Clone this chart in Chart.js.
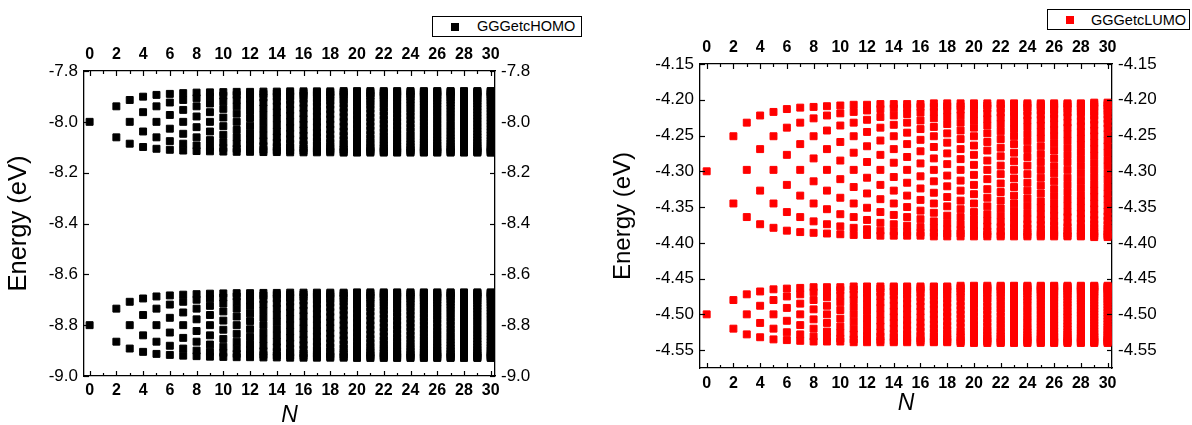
<!DOCTYPE html>
<html>
<head>
<meta charset="utf-8">
<script src="https://cdn.jsdelivr.net/npm/chart.js@4.4.1/dist/chart.umd.min.js"></script>
<style>
  html, body { margin: 0; padding: 0; background: #fff; }
  body { width: 1192px; height: 425px; position: relative; overflow: hidden; font-family: 'Liberation Sans', Arial, sans-serif; }
  canvas { position: absolute; top: 0; }
  .legend { position: absolute; border: 1px solid #000; box-sizing: border-box; background: #fff; }
  .legend .mk { position: absolute; width: 8px; height: 8px; }
  .legend .tx { position: absolute; font-size: 14.5px; line-height: 15px; color: #000; white-space: nowrap; }
</style>
</head>
<body>
<canvas id="homo" width="596" height="425" style="left:0px"></canvas>
<canvas id="lumo" width="596" height="425" style="left:596px"></canvas>

<div class="legend" style="left:432px; top:16px; width:150px; height:21px;">
  <span class="mk" style="left:18px; top:6px; background:#000;"></span>
  <span class="tx" style="left:44px; top:2px;">GGGetcHOMO</span>
</div>
<div class="legend" style="left:1047px; top:9px; width:143px; height:21px;">
  <span class="mk" style="left:18px; top:6px; background:#ff0000;"></span>
  <span class="tx" style="left:43px; top:3px;">GGGetcLUMO</span>
</div>

<script>
// ---------------- data ----------------
const N_VALUES = [0,2,3,4,5,6,7,8,9,10,11,12,13,14,15,16,17,18,19,20,21,22,23,24,25,26,27,28,29,30];

const X_TICKS = [0,2,4,6,8,10,12,14,16,18,20,22,24,26,28,30];
const X_TICK_LABELS = ['0','2','4','6','8','10','12','14','16','18','20','22','24','26','28','30'];
const X_MINOR_TICKS = [1,3,5,7,9,11,13,15,17,19,21,23,25,27,29];

const HOMO_Y_TICKS = [-9.0,-8.8,-8.6,-8.4,-8.2,-8.0,-7.8];
const HOMO_Y_LABELS = ['-9.0','-8.8','-8.6','-8.4','-8.2','-8.0','-7.8'];
const LUMO_Y_TICKS = [-4.55,-4.50,-4.45,-4.40,-4.35,-4.30,-4.25,-4.20,-4.15];
const LUMO_Y_LABELS = ['-4.55','-4.50','-4.45','-4.40','-4.35','-4.30','-4.25','-4.20','-4.15'];

// energy levels (eV) for each N, upper HOMO band
const HOMO_UPPER = [
[-8.000],
[-7.939,-8.061],
[-7.914,-8.000,-8.086],
[-7.901,-7.962,-8.038,-8.099],
[-7.894,-7.939,-8.000,-8.061,-8.106],
[-7.890,-7.924,-7.973,-8.027,-8.076,-8.110],
[-7.887,-7.914,-7.953,-8.000,-8.047,-8.086,-8.113],
[-7.885,-7.907,-7.939,-7.979,-8.021,-8.061,-8.093,-8.115],
[-7.884,-7.901,-7.928,-7.962,-8.000,-8.038,-8.072,-8.099,-8.116],
[-7.883,-7.897,-7.920,-7.949,-7.983,-8.017,-8.051,-8.080,-8.103,-8.117],
[-7.882,-7.894,-7.914,-7.939,-7.968,-8.000,-8.032,-8.061,-8.086,-8.106,-8.118],
[-7.882,-7.892,-7.909,-7.931,-7.957,-7.985,-8.015,-8.043,-8.069,-8.091,-8.108,-8.118],
[-7.881,-7.890,-7.905,-7.924,-7.947,-7.973,-8.000,-8.027,-8.053,-8.076,-8.095,-8.110,-8.119],
[-7.881,-7.888,-7.901,-7.918,-7.939,-7.962,-7.987,-8.013,-8.038,-8.061,-8.082,-8.099,-8.112,-8.119],
[-7.880,-7.887,-7.899,-7.914,-7.932,-7.953,-7.976,-8.000,-8.024,-8.047,-8.068,-8.086,-8.101,-8.113,-8.120],
[-7.880,-7.886,-7.896,-7.910,-7.926,-7.946,-7.967,-7.989,-8.011,-8.033,-8.054,-8.074,-8.090,-8.104,-8.114,-8.120],
[-7.880,-7.885,-7.894,-7.907,-7.922,-7.939,-7.958,-7.979,-8.000,-8.021,-8.042,-8.061,-8.078,-8.093,-8.106,-8.115,-8.120],
[-7.880,-7.885,-7.893,-7.904,-7.917,-7.933,-7.951,-7.970,-7.990,-8.010,-8.030,-8.049,-8.067,-8.083,-8.096,-8.107,-8.115,-8.120],
[-7.879,-7.884,-7.891,-7.901,-7.914,-7.928,-7.945,-7.962,-7.981,-8.000,-8.019,-8.038,-8.055,-8.072,-8.086,-8.099,-8.109,-8.116,-8.121],
[-7.879,-7.883,-7.890,-7.899,-7.911,-7.924,-7.939,-7.955,-7.973,-7.991,-8.009,-8.027,-8.045,-8.061,-8.076,-8.089,-8.101,-8.110,-8.117,-8.121],
[-7.879,-7.883,-7.889,-7.897,-7.908,-7.920,-7.934,-7.949,-7.966,-7.983,-8.000,-8.017,-8.034,-8.051,-8.066,-8.080,-8.092,-8.103,-8.111,-8.117,-8.121],
[-7.879,-7.883,-7.888,-7.896,-7.905,-7.917,-7.930,-7.944,-7.959,-7.975,-7.992,-8.008,-8.025,-8.041,-8.056,-8.070,-8.083,-8.095,-8.104,-8.112,-8.117,-8.121],
[-7.879,-7.882,-7.887,-7.894,-7.903,-7.914,-7.926,-7.939,-7.953,-7.968,-7.984,-8.000,-8.016,-8.032,-8.047,-8.061,-8.074,-8.086,-8.097,-8.106,-8.113,-8.118,-8.121],
[-7.879,-7.882,-7.887,-7.893,-7.901,-7.911,-7.922,-7.935,-7.948,-7.962,-7.977,-7.992,-8.008,-8.023,-8.038,-8.052,-8.065,-8.078,-8.089,-8.099,-8.107,-8.113,-8.118,-8.121],
[-7.879,-7.882,-7.886,-7.892,-7.900,-7.909,-7.919,-7.931,-7.943,-7.957,-7.971,-7.985,-8.000,-8.015,-8.029,-8.043,-8.057,-8.069,-8.081,-8.091,-8.100,-8.108,-8.114,-8.118,-8.121],
[-7.879,-7.881,-7.885,-7.891,-7.898,-7.907,-7.916,-7.927,-7.939,-7.952,-7.965,-7.979,-7.993,-8.007,-8.021,-8.035,-8.048,-8.061,-8.073,-8.084,-8.093,-8.102,-8.109,-8.115,-8.119,-8.121],
[-7.879,-7.881,-7.885,-7.890,-7.897,-7.905,-7.914,-7.924,-7.935,-7.947,-7.960,-7.973,-7.986,-8.000,-8.014,-8.027,-8.040,-8.053,-8.065,-8.076,-8.086,-8.095,-8.103,-8.110,-8.115,-8.119,-8.121],
[-7.879,-7.881,-7.884,-7.889,-7.895,-7.903,-7.911,-7.921,-7.932,-7.943,-7.955,-7.967,-7.980,-7.993,-8.007,-8.020,-8.033,-8.045,-8.057,-8.068,-8.079,-8.089,-8.097,-8.105,-8.111,-8.116,-8.119,-8.121],
[-7.879,-7.881,-7.884,-7.888,-7.894,-7.901,-7.909,-7.918,-7.928,-7.939,-7.950,-7.962,-7.975,-7.987,-8.000,-8.013,-8.025,-8.038,-8.050,-8.061,-8.072,-8.082,-8.091,-8.099,-8.106,-8.112,-8.116,-8.119,-8.121],
[-7.879,-7.880,-7.884,-7.888,-7.893,-7.900,-7.907,-7.916,-7.925,-7.935,-7.946,-7.958,-7.969,-7.982,-7.994,-8.006,-8.018,-8.031,-8.042,-8.054,-8.065,-8.075,-8.084,-8.093,-8.100,-8.107,-8.112,-8.116,-8.120,-8.121]
];

// lower HOMO band
const HOMO_LOWER = [
[-8.800],
[-8.735,-8.865],
[-8.708,-8.800,-8.892],
[-8.695,-8.760,-8.840,-8.905],
[-8.687,-8.735,-8.800,-8.865,-8.913],
[-8.683,-8.719,-8.771,-8.829,-8.881,-8.917],
[-8.680,-8.708,-8.750,-8.800,-8.850,-8.892,-8.920],
[-8.678,-8.700,-8.735,-8.777,-8.823,-8.865,-8.900,-8.922],
[-8.676,-8.695,-8.724,-8.760,-8.800,-8.840,-8.876,-8.905,-8.924],
[-8.675,-8.691,-8.715,-8.746,-8.782,-8.818,-8.854,-8.885,-8.909,-8.925],
[-8.674,-8.687,-8.708,-8.735,-8.766,-8.800,-8.834,-8.865,-8.892,-8.913,-8.926],
[-8.674,-8.685,-8.703,-8.726,-8.754,-8.784,-8.816,-8.846,-8.874,-8.897,-8.915,-8.926],
[-8.673,-8.683,-8.698,-8.719,-8.744,-8.771,-8.800,-8.829,-8.856,-8.881,-8.902,-8.917,-8.927],
[-8.673,-8.681,-8.695,-8.713,-8.735,-8.760,-8.786,-8.814,-8.840,-8.865,-8.887,-8.905,-8.919,-8.927],
[-8.672,-8.680,-8.692,-8.708,-8.728,-8.750,-8.775,-8.800,-8.825,-8.850,-8.872,-8.892,-8.908,-8.920,-8.928],
[-8.672,-8.679,-8.689,-8.704,-8.722,-8.742,-8.764,-8.788,-8.812,-8.836,-8.858,-8.878,-8.896,-8.911,-8.921,-8.928],
[-8.672,-8.678,-8.687,-8.700,-8.716,-8.735,-8.756,-8.777,-8.800,-8.823,-8.844,-8.865,-8.884,-8.900,-8.913,-8.922,-8.928],
[-8.672,-8.677,-8.686,-8.697,-8.712,-8.729,-8.748,-8.768,-8.789,-8.811,-8.832,-8.852,-8.871,-8.888,-8.903,-8.914,-8.923,-8.928],
[-8.672,-8.676,-8.684,-8.695,-8.708,-8.724,-8.741,-8.760,-8.780,-8.800,-8.820,-8.840,-8.859,-8.876,-8.892,-8.905,-8.916,-8.924,-8.928],
[-8.671,-8.676,-8.683,-8.693,-8.705,-8.719,-8.735,-8.753,-8.771,-8.790,-8.810,-8.829,-8.847,-8.865,-8.881,-8.895,-8.907,-8.917,-8.924,-8.929],
[-8.671,-8.675,-8.682,-8.691,-8.702,-8.715,-8.730,-8.746,-8.763,-8.782,-8.800,-8.818,-8.837,-8.854,-8.870,-8.885,-8.898,-8.909,-8.918,-8.925,-8.929],
[-8.671,-8.675,-8.681,-8.689,-8.699,-8.711,-8.725,-8.740,-8.756,-8.774,-8.791,-8.809,-8.826,-8.844,-8.860,-8.875,-8.889,-8.901,-8.911,-8.919,-8.925,-8.929],
[-8.671,-8.674,-8.680,-8.687,-8.697,-8.708,-8.721,-8.735,-8.750,-8.766,-8.783,-8.800,-8.817,-8.834,-8.850,-8.865,-8.879,-8.892,-8.903,-8.913,-8.920,-8.926,-8.929],
[-8.671,-8.674,-8.679,-8.686,-8.695,-8.705,-8.717,-8.730,-8.745,-8.760,-8.776,-8.792,-8.808,-8.824,-8.840,-8.855,-8.870,-8.883,-8.895,-8.905,-8.914,-8.921,-8.926,-8.929],
[-8.671,-8.674,-8.678,-8.685,-8.693,-8.703,-8.714,-8.726,-8.740,-8.754,-8.769,-8.784,-8.800,-8.816,-8.831,-8.846,-8.860,-8.874,-8.886,-8.897,-8.907,-8.915,-8.922,-8.926,-8.929],
[-8.671,-8.674,-8.678,-8.684,-8.691,-8.700,-8.711,-8.722,-8.735,-8.749,-8.763,-8.777,-8.792,-8.808,-8.823,-8.837,-8.851,-8.865,-8.878,-8.889,-8.900,-8.909,-8.916,-8.922,-8.926,-8.929],
[-8.671,-8.673,-8.677,-8.683,-8.690,-8.698,-8.708,-8.719,-8.731,-8.744,-8.757,-8.771,-8.785,-8.800,-8.815,-8.829,-8.843,-8.856,-8.869,-8.881,-8.892,-8.902,-8.910,-8.917,-8.923,-8.927,-8.929],
[-8.671,-8.673,-8.677,-8.682,-8.689,-8.697,-8.706,-8.716,-8.727,-8.739,-8.752,-8.765,-8.779,-8.793,-8.807,-8.821,-8.835,-8.848,-8.861,-8.873,-8.884,-8.894,-8.903,-8.911,-8.918,-8.923,-8.927,-8.929],
[-8.671,-8.673,-8.676,-8.681,-8.687,-8.695,-8.703,-8.713,-8.724,-8.735,-8.747,-8.760,-8.773,-8.786,-8.800,-8.814,-8.827,-8.840,-8.853,-8.865,-8.876,-8.887,-8.897,-8.905,-8.913,-8.919,-8.924,-8.927,-8.929],
[-8.671,-8.673,-8.676,-8.681,-8.686,-8.693,-8.701,-8.710,-8.720,-8.731,-8.743,-8.755,-8.767,-8.780,-8.793,-8.807,-8.820,-8.833,-8.845,-8.857,-8.869,-8.880,-8.890,-8.899,-8.907,-8.914,-8.919,-8.924,-8.927,-8.929]
];

// upper LUMO band
const LUMO_UPPER = [
[-4.300],
[-4.251,-4.345],
[-4.232,-4.298,-4.364],
[-4.222,-4.269,-4.327,-4.374],
[-4.217,-4.251,-4.298,-4.345,-4.379],
[-4.213,-4.239,-4.277,-4.319,-4.357,-4.383],
[-4.211,-4.232,-4.262,-4.298,-4.334,-4.364,-4.385],
[-4.210,-4.226,-4.251,-4.282,-4.314,-4.345,-4.370,-4.386],
[-4.209,-4.222,-4.243,-4.269,-4.298,-4.327,-4.353,-4.374,-4.387],
[-4.208,-4.219,-4.236,-4.259,-4.285,-4.311,-4.337,-4.360,-4.377,-4.388],
[-4.207,-4.217,-4.232,-4.251,-4.274,-4.298,-4.322,-4.345,-4.364,-4.379,-4.389],
[-4.207,-4.215,-4.228,-4.245,-4.265,-4.287,-4.309,-4.331,-4.351,-4.368,-4.381,-4.389],
[-4.206,-4.213,-4.224,-4.239,-4.257,-4.277,-4.298,-4.319,-4.339,-4.357,-4.372,-4.383,-4.390],
[-4.206,-4.212,-4.222,-4.235,-4.251,-4.269,-4.288,-4.308,-4.327,-4.345,-4.361,-4.374,-4.384,-4.390],
[-4.206,-4.211,-4.220,-4.232,-4.246,-4.262,-4.280,-4.298,-4.316,-4.334,-4.350,-4.364,-4.376,-4.385,-4.390],
[-4.206,-4.210,-4.218,-4.229,-4.241,-4.256,-4.272,-4.289,-4.307,-4.324,-4.340,-4.355,-4.367,-4.378,-4.386,-4.390],
[-4.205,-4.210,-4.217,-4.226,-4.238,-4.251,-4.266,-4.282,-4.298,-4.314,-4.330,-4.345,-4.358,-4.370,-4.379,-4.386,-4.391],
[-4.205,-4.209,-4.215,-4.224,-4.234,-4.247,-4.260,-4.275,-4.290,-4.306,-4.321,-4.336,-4.349,-4.362,-4.372,-4.381,-4.387,-4.391],
[-4.205,-4.209,-4.214,-4.222,-4.232,-4.243,-4.255,-4.269,-4.283,-4.298,-4.313,-4.327,-4.341,-4.353,-4.364,-4.374,-4.382,-4.387,-4.391],
[-4.205,-4.208,-4.213,-4.220,-4.229,-4.239,-4.251,-4.264,-4.277,-4.291,-4.305,-4.319,-4.332,-4.345,-4.357,-4.367,-4.376,-4.383,-4.388,-4.391],
[-4.205,-4.208,-4.212,-4.219,-4.227,-4.236,-4.247,-4.259,-4.271,-4.285,-4.298,-4.311,-4.325,-4.337,-4.349,-4.360,-4.369,-4.377,-4.384,-4.388,-4.391],
[-4.205,-4.207,-4.212,-4.218,-4.225,-4.234,-4.244,-4.255,-4.267,-4.279,-4.292,-4.304,-4.317,-4.329,-4.341,-4.352,-4.362,-4.371,-4.378,-4.384,-4.389,-4.391],
[-4.205,-4.207,-4.211,-4.217,-4.223,-4.232,-4.241,-4.251,-4.262,-4.274,-4.286,-4.298,-4.310,-4.322,-4.334,-4.345,-4.355,-4.364,-4.373,-4.379,-4.385,-4.389,-4.391],
[-4.205,-4.207,-4.211,-4.216,-4.222,-4.229,-4.238,-4.248,-4.258,-4.269,-4.280,-4.292,-4.304,-4.316,-4.327,-4.338,-4.348,-4.358,-4.367,-4.374,-4.380,-4.385,-4.389,-4.391],
[-4.205,-4.207,-4.210,-4.215,-4.221,-4.228,-4.236,-4.245,-4.254,-4.265,-4.276,-4.287,-4.298,-4.309,-4.320,-4.331,-4.342,-4.351,-4.360,-4.368,-4.375,-4.381,-4.386,-4.389,-4.391],
[-4.205,-4.207,-4.210,-4.214,-4.220,-4.226,-4.234,-4.242,-4.251,-4.261,-4.271,-4.282,-4.293,-4.303,-4.314,-4.325,-4.335,-4.345,-4.354,-4.362,-4.370,-4.376,-4.382,-4.386,-4.389,-4.391],
[-4.205,-4.206,-4.209,-4.213,-4.218,-4.224,-4.232,-4.239,-4.248,-4.257,-4.267,-4.277,-4.287,-4.298,-4.309,-4.319,-4.329,-4.339,-4.348,-4.357,-4.364,-4.372,-4.378,-4.383,-4.387,-4.390,-4.391],
[-4.205,-4.206,-4.209,-4.213,-4.217,-4.223,-4.230,-4.237,-4.245,-4.254,-4.263,-4.273,-4.283,-4.293,-4.303,-4.313,-4.323,-4.333,-4.342,-4.351,-4.359,-4.366,-4.373,-4.379,-4.383,-4.387,-4.390,-4.391],
[-4.204,-4.206,-4.209,-4.212,-4.217,-4.222,-4.228,-4.235,-4.243,-4.251,-4.260,-4.269,-4.278,-4.288,-4.298,-4.308,-4.318,-4.327,-4.336,-4.345,-4.353,-4.361,-4.368,-4.374,-4.379,-4.384,-4.387,-4.390,-4.392],
[-4.204,-4.206,-4.208,-4.212,-4.216,-4.221,-4.227,-4.233,-4.240,-4.248,-4.257,-4.265,-4.274,-4.284,-4.293,-4.303,-4.312,-4.322,-4.331,-4.339,-4.348,-4.356,-4.363,-4.369,-4.375,-4.380,-4.384,-4.388,-4.390,-4.392]
];

// lower LUMO band
const LUMO_LOWER = [
[-4.500],
[-4.480,-4.520],
[-4.472,-4.500,-4.528],
[-4.468,-4.488,-4.512,-4.532],
[-4.465,-4.480,-4.500,-4.520,-4.535],
[-4.464,-4.475,-4.491,-4.509,-4.525,-4.536],
[-4.463,-4.472,-4.485,-4.500,-4.515,-4.528,-4.537],
[-4.462,-4.469,-4.480,-4.493,-4.507,-4.520,-4.531,-4.538],
[-4.462,-4.468,-4.476,-4.488,-4.500,-4.512,-4.524,-4.532,-4.538],
[-4.462,-4.466,-4.474,-4.483,-4.494,-4.506,-4.517,-4.526,-4.534,-4.538],
[-4.461,-4.465,-4.472,-4.480,-4.490,-4.500,-4.510,-4.520,-4.528,-4.535,-4.539],
[-4.461,-4.465,-4.470,-4.477,-4.486,-4.495,-4.505,-4.514,-4.523,-4.530,-4.535,-4.539],
[-4.461,-4.464,-4.469,-4.475,-4.483,-4.491,-4.500,-4.509,-4.517,-4.525,-4.531,-4.536,-4.539],
[-4.461,-4.463,-4.468,-4.473,-4.480,-4.488,-4.496,-4.504,-4.512,-4.520,-4.527,-4.532,-4.537,-4.539],
[-4.461,-4.463,-4.467,-4.472,-4.478,-4.485,-4.492,-4.500,-4.508,-4.515,-4.522,-4.528,-4.533,-4.537,-4.539],
[-4.461,-4.463,-4.466,-4.470,-4.476,-4.482,-4.489,-4.496,-4.504,-4.511,-4.518,-4.524,-4.530,-4.534,-4.537,-4.539],
[-4.461,-4.462,-4.465,-4.469,-4.474,-4.480,-4.486,-4.493,-4.500,-4.507,-4.514,-4.520,-4.526,-4.531,-4.535,-4.538,-4.539],
[-4.461,-4.462,-4.465,-4.468,-4.473,-4.478,-4.484,-4.490,-4.497,-4.503,-4.510,-4.516,-4.522,-4.527,-4.532,-4.535,-4.538,-4.539],
[-4.460,-4.462,-4.464,-4.468,-4.472,-4.476,-4.482,-4.488,-4.494,-4.500,-4.506,-4.512,-4.518,-4.524,-4.528,-4.532,-4.536,-4.538,-4.540],
[-4.460,-4.462,-4.464,-4.467,-4.471,-4.475,-4.480,-4.485,-4.491,-4.497,-4.503,-4.509,-4.515,-4.520,-4.525,-4.529,-4.533,-4.536,-4.538,-4.540],
[-4.460,-4.462,-4.464,-4.466,-4.470,-4.474,-4.478,-4.483,-4.489,-4.494,-4.500,-4.506,-4.511,-4.517,-4.522,-4.526,-4.530,-4.534,-4.536,-4.538,-4.540],
[-4.460,-4.461,-4.463,-4.466,-4.469,-4.473,-4.477,-4.482,-4.487,-4.492,-4.497,-4.503,-4.508,-4.513,-4.518,-4.523,-4.527,-4.531,-4.534,-4.537,-4.539,-4.540],
[-4.460,-4.461,-4.463,-4.465,-4.468,-4.472,-4.476,-4.480,-4.485,-4.490,-4.495,-4.500,-4.505,-4.510,-4.515,-4.520,-4.524,-4.528,-4.532,-4.535,-4.537,-4.539,-4.540],
[-4.460,-4.461,-4.463,-4.465,-4.468,-4.471,-4.475,-4.479,-4.483,-4.488,-4.493,-4.497,-4.503,-4.507,-4.512,-4.517,-4.521,-4.525,-4.529,-4.532,-4.535,-4.537,-4.539,-4.540],
[-4.460,-4.461,-4.463,-4.465,-4.467,-4.470,-4.473,-4.477,-4.481,-4.486,-4.490,-4.495,-4.500,-4.505,-4.510,-4.514,-4.519,-4.523,-4.527,-4.530,-4.533,-4.535,-4.537,-4.539,-4.540],
[-4.460,-4.461,-4.462,-4.464,-4.467,-4.469,-4.473,-4.476,-4.480,-4.484,-4.489,-4.493,-4.498,-4.502,-4.507,-4.511,-4.516,-4.520,-4.524,-4.527,-4.531,-4.533,-4.536,-4.538,-4.539,-4.540],
[-4.460,-4.461,-4.462,-4.464,-4.466,-4.469,-4.472,-4.475,-4.479,-4.483,-4.487,-4.491,-4.496,-4.500,-4.504,-4.509,-4.513,-4.517,-4.521,-4.525,-4.528,-4.531,-4.534,-4.536,-4.538,-4.539,-4.540],
[-4.460,-4.461,-4.462,-4.464,-4.466,-4.468,-4.471,-4.474,-4.478,-4.481,-4.485,-4.489,-4.494,-4.498,-4.502,-4.506,-4.511,-4.515,-4.519,-4.522,-4.526,-4.529,-4.532,-4.534,-4.536,-4.538,-4.539,-4.540],
[-4.460,-4.461,-4.462,-4.463,-4.465,-4.468,-4.470,-4.473,-4.476,-4.480,-4.484,-4.488,-4.492,-4.496,-4.500,-4.504,-4.508,-4.512,-4.516,-4.520,-4.524,-4.527,-4.530,-4.532,-4.535,-4.537,-4.538,-4.539,-4.540],
[-4.460,-4.461,-4.462,-4.463,-4.465,-4.467,-4.470,-4.472,-4.476,-4.479,-4.482,-4.486,-4.490,-4.494,-4.498,-4.502,-4.506,-4.510,-4.514,-4.518,-4.521,-4.524,-4.528,-4.530,-4.533,-4.535,-4.537,-4.538,-4.539,-4.540]
];

// ---------------- rendering ----------------
const FONT = "'Liberation Sans', Arial, Helvetica, sans-serif";
Chart.defaults.font.family = FONT;
Chart.defaults.color = '#000';

function toPoints(levels) {
  const pts = [];
  N_VALUES.forEach((n, i) => levels[i].forEach(e => pts.push({ x: n, y: e })));
  return pts;
}

const inwardTicks = {
  id: 'inwardTicks',
  afterDraw(chart) {
    const ctx = chart.ctx, a = chart.chartArea;
    ctx.save();
    ctx.strokeStyle = '#000';
    ctx.lineWidth = 1.2;
    Object.values(chart.scales).forEach(s => {
      const draw = (v, len) => {
        const p = Math.round(s.getPixelForValue(v)) + 0.5;
        ctx.beginPath();
        if (s.isHorizontal()) {
          const y0 = s.position === 'top' ? a.top : a.bottom;
          const dir = s.position === 'top' ? 1 : -1;
          ctx.moveTo(p, y0); ctx.lineTo(p, y0 + dir * len);
        } else {
          const x0 = s.position === 'left' ? a.left : a.right;
          const dir = s.position === 'left' ? 1 : -1;
          ctx.moveTo(x0, p); ctx.lineTo(x0 + dir * len, p);
        }
        ctx.stroke();
      };
      s.ticks.forEach(t => draw(t.value, 5));
      if (s.isHorizontal()) X_MINOR_TICKS.forEach(v => draw(v, 3));
    });
    ctx.restore();
  }
};

function makeChart(id, cfg) {
  const border = { display: true, color: '#000', width: 1.3 };
  const grid = { display: false, drawTicks: false };
  const xTickFont = { size: 16, weight: 'bold', family: FONT };
  const yTickFont = { size: 17, family: FONT };
  const xTicks = (pad) => ({
    font: xTickFont, color: '#000', padding: pad, maxRotation: 0, autoSkip: false,
    callback: (v, i) => X_TICK_LABELS[i]
  });
  const yTicks = (pad) => ({
    font: yTickFont, color: '#000', padding: pad, autoSkip: false,
    callback: (v, i) => cfg.yLabels[i]
  });
  const setX = s => { s.ticks = X_TICKS.map(v => ({ value: v })); };
  const setY = s => { s.ticks = cfg.yTicks.map(v => ({ value: v })); };

  return new Chart(document.getElementById(id), {
    type: 'scatter',
    data: {
      datasets: cfg.bands.map(b => ({
        data: toPoints(b),
        pointStyle: 'rect',
        pointRadius: 4.9,
        pointHoverRadius: 4.9,
        pointBorderWidth: 1,
        backgroundColor: cfg.color,
        borderColor: cfg.color,
        showLine: false
      }))
    },
    options: {
      responsive: false,
      animation: false,
      devicePixelRatio: 1,
      layout: { padding: 0 },
      plugins: { legend: { display: false }, tooltip: { enabled: false } },
      events: [],
      scales: {
        x: {
          type: 'linear', position: 'bottom', min: cfg.xMin, max: cfg.xMax,
          afterBuildTicks: setX, grid, border, ticks: xTicks(cfg.padBottom),
          title: { display: true, text: 'N', color: '#000',
                   font: { size: 23, style: 'italic', family: FONT, lineHeight: 1.2 },
                   padding: { top: 0, bottom: cfg.nPad } },
          afterFit: s => { s.height = cfg.hBottom; }
        },
        x2: {
          type: 'linear', position: 'top', min: cfg.xMin, max: cfg.xMax,
          afterBuildTicks: setX, grid, border, ticks: xTicks(cfg.padTop),
          afterFit: s => { s.height = cfg.hTop; }
        },
        y: {
          type: 'linear', position: 'left', min: cfg.yMin, max: cfg.yMax,
          afterBuildTicks: setY, grid, border, ticks: yTicks(6),
          title: { display: true, text: 'Energy (eV)', color: '#000',
                   font: { size: cfg.eSize, family: FONT, lineHeight: 1.2 },
                   padding: { top: cfg.ePad, bottom: 0 } },
          afterFit: s => { s.width = cfg.wLeft; }
        },
        y2: {
          type: 'linear', position: 'right', min: cfg.yMin, max: cfg.yMax,
          afterBuildTicks: setY, grid, border, ticks: yTicks(6),
          afterFit: s => { s.width = cfg.wRight; }
        }
      }
    },
    plugins: [inwardTicks]
  });
}

makeChart('homo', {
  bands: [HOMO_UPPER, HOMO_LOWER], color: '#000000',
  yTicks: HOMO_Y_TICKS, yLabels: HOMO_Y_LABELS,
  xMin: -0.42, xMax: 30.32, yMin: -9.0, yMax: -7.8,
  wLeft: 84, wRight: 101, hTop: 71, hBottom: 49,
  padTop: 6.5, padBottom: 5, nPad: -4, ePad: 3.5, eSize: 25.5
});

makeChart('lumo', {
  bands: [LUMO_UPPER, LUMO_LOWER], color: '#ff0000',
  yTicks: LUMO_Y_TICKS, yLabels: LUMO_Y_LABELS,
  xMin: -0.5, xMax: 30.33, yMin: -4.575, yMax: -4.15,
  wLeft: 104, wRight: 80, hTop: 64, hBottom: 57,
  padTop: 6.5, padBottom: 6, nPad: 8, ePad: 12.9, eSize: 24
});
</script>
</body>
</html>
